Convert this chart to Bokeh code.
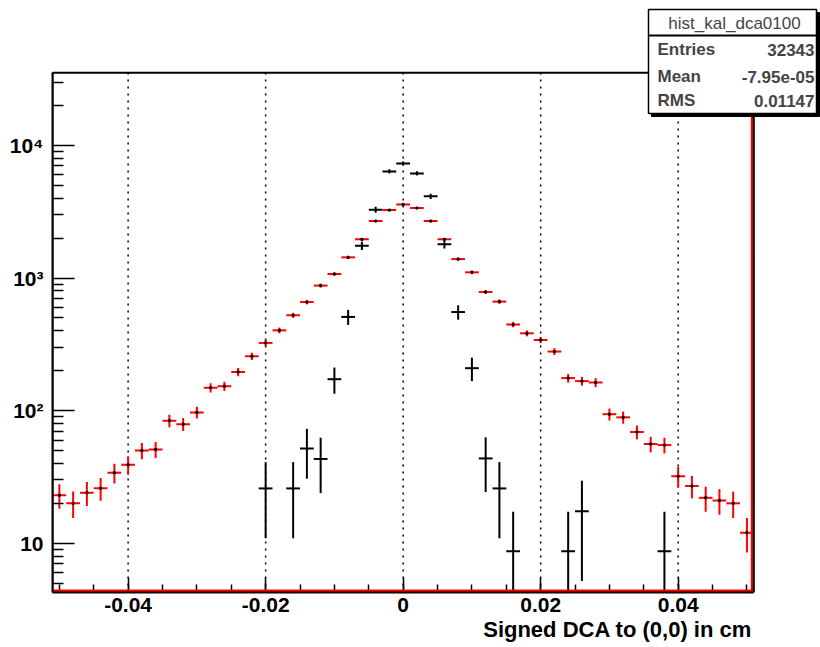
import math
from bokeh.plotting import figure
from bokeh.models import (ColumnDataSource, Range1d, FixedTicker, Label, BoxAnnotation, LinearAxis)
from bokeh.embed import file_html
from bokeh.resources import INLINE

# ---------------- data ----------------
red_x = [-0.050, -0.048, -0.046, -0.044, -0.042, -0.040, -0.038, -0.036, -0.034, -0.032,
         -0.030, -0.028, -0.026, -0.024, -0.022, -0.020, -0.018, -0.016, -0.014, -0.012,
         -0.010, -0.008, -0.006, -0.004, -0.002, 0.000, 0.002, 0.004, 0.006, 0.008,
         0.010, 0.012, 0.014, 0.016, 0.018, 0.020, 0.022, 0.024, 0.026, 0.028,
         0.030, 0.032, 0.034, 0.036, 0.038, 0.040, 0.042, 0.044, 0.046, 0.048, 0.050]
red_counts = [23, 20, 24, 26, 34, 39, 50, 51, 84, 79,
              97, 149, 153, 196, 257, 324, 403, 524, 659, 877,
              1072, 1432, 1958, 2691, 3253, 3592, 3372, 2691, 1958, 1390,
              1104, 785, 664, 446, 383, 341, 279, 176, 167, 163,
              94, 89, 69, 56, 55, 32, 27, 22, 21, 20, 12]
red_errors = [4.8, 4.5, 4.9, 5.1, 5.8, 6.2, 7.1, 7.1, 9.2, 8.9,
              9.8, 12.2, 12.4, 14.0, 16.0, 18.0, 20.1, 22.9, 25.7, 29.6,
              32.7, 37.8, 44.2, 51.9, 57.0, 59.9, 58.1, 51.9, 44.2, 37.3,
              33.2, 28.0, 25.8, 21.1, 19.6, 18.5, 16.7, 13.3, 12.9, 12.8,
              9.7, 9.4, 8.3, 7.5, 7.4, 5.7, 5.2, 4.7, 4.6, 4.5, 3.5]

black_x = [-0.020, -0.016, -0.014, -0.012, -0.010, -0.008, -0.006, -0.004, -0.002, 0.000,
           0.002, 0.004, 0.006, 0.008, 0.010, 0.012, 0.014, 0.016, 0.024, 0.026, 0.038]
black_vals = [25.9, 25.9, 51.8, 43.2, 172.6, 509, 1752, 3273, 6368, 7313,
              6152, 4130, 1795, 554, 209, 43.6, 25.9, 8.7, 8.7, 17.4, 8.7]
black_errs = [15.0, 15.0, 21.1, 19.3, 38.6, 66.3, 123, 168, 234, 251,
              230, 189, 124, 69, 42, 19.3, 15.0, 8.6, 8.6, 12.2, 8.6]

half_bin = 0.001

x_ticks = [-0.04, -0.02, 0.0, 0.02, 0.04]
x_tick_labels = ["-0.04", "-0.02", "0", "0.02", "0.04"]
x_minor = [-0.05, -0.045, -0.04, -0.035, -0.03, -0.025, -0.02, -0.015, -0.01, -0.005, 0.0,
           0.005, 0.01, 0.015, 0.02, 0.025, 0.03, 0.035, 0.04, 0.045, 0.05]
y_ticks = [10, 100, 1000, 10000]
y_tick_labels = ["10", "10\u00b2", "10\u00b3", "10\u2074"]
y_minor = [5, 6, 7, 8, 9, 20, 30, 40, 50, 60, 70, 80, 90,
           200, 300, 400, 500, 600, 700, 800, 900,
           2000, 3000, 4000, 5000, 6000, 7000, 8000, 9000, 20000, 30000]

stats_title = "hist_kal_dca0100"
stats_names = ["Entries", "Mean", "RMS"]
stats_values = ["32343", "-7.95e-05", "0.01147"]
x_title = "Signed DCA to (0,0) in cm"

x_lo, x_hi = -0.051, 0.051
y_lo, y_hi = 4.25, 35300

# ---------------- layout (pixels) ----------------
W, H = 820, 647
DATA_L, DATA_R, DATA_T, DATA_B = 52, 753.3, 72.3, 592
px_per_x = (DATA_R - DATA_L) / (x_hi - x_lo)
px_per_dec = (DATA_B - DATA_T) / (math.log10(y_hi) - math.log10(y_lo))
# the frame is extended to the canvas top/right so the stats box can overlap it
x_ext = x_hi + (W - DATA_R) / px_per_x
y_ext = 10 ** (math.log10(y_hi) + DATA_T / px_per_dec)

p = figure(width=W, height=H, x_range=Range1d(x_lo, x_ext), y_range=Range1d(y_lo, y_ext),
           y_axis_type="log", output_backend="svg", toolbar_location=None,
           min_border_left=DATA_L, min_border_right=0, min_border_top=0,
           min_border_bottom=H - DATA_B)
p.background_fill_color = "white"
p.border_fill_color = "white"
p.outline_line_color = None
p.xgrid.visible = False
p.ygrid.visible = False

FONT = "Liberation Sans"

# x axis
p.xaxis.ticker = FixedTicker(ticks=x_ticks, minor_ticks=x_minor)
p.xaxis.major_label_overrides = {t: l for t, l in zip(x_ticks, x_tick_labels)}
p.xaxis.bounds = (x_lo, x_hi)
p.xaxis.major_tick_in = 15
p.xaxis.major_tick_out = 0
p.xaxis.minor_tick_in = 8
p.xaxis.minor_tick_out = 0
p.xaxis.major_label_standoff = 5
# y axis
p.yaxis.ticker = FixedTicker(ticks=y_ticks, minor_ticks=y_minor)
p.yaxis.major_label_overrides = {t: l for t, l in zip(y_ticks, y_tick_labels)}
p.yaxis.bounds = (y_lo, y_hi)
p.yaxis.major_tick_in = 22
p.yaxis.major_tick_out = 0
p.yaxis.minor_tick_in = 11
p.yaxis.minor_tick_out = 0
p.yaxis.major_label_standoff = 9
for ax in (p.xaxis, p.yaxis):
    ax.axis_line_width = 2
    ax.major_tick_line_width = 1.5
    ax.minor_tick_line_width = 1.5
    ax.major_label_text_font = FONT
    ax.major_label_text_font_style = "bold"
    ax.major_label_text_font_size = "21px"
    ax.major_label_text_color = "black"

# x-axis title: drawn as the single tick label of an extra line-less axis,
# placed so that the text ends at the right end of the data frame
title_pos = 0.0312
title_axis = LinearAxis(ticker=FixedTicker(ticks=[title_pos], minor_ticks=[]),
                        major_label_overrides={title_pos: x_title},
                        axis_line_color=None, major_tick_line_color=None, minor_tick_line_color=None,
                        major_tick_in=0, major_tick_out=0, minor_tick_in=0, minor_tick_out=0,
                        major_label_standoff=2,
                        major_label_text_font=FONT, major_label_text_font_style="bold",
                        major_label_text_font_size="22px", major_label_text_color="black")
p.add_layout(title_axis, "below")

# dotted vertical grid at major x ticks (limited to the data frame)
p.segment(x0=x_ticks, x1=x_ticks, y0=[y_lo] * len(x_ticks), y1=[y_hi] * len(x_ticks),
          line_color="black", line_width=1.5, line_dash="2 5")

# black histogram
bsrc = ColumnDataSource(dict(
    x=black_x, y=black_vals,
    xl=[x - half_bin for x in black_x], xr=[x + half_bin for x in black_x],
    yl=[v - e for v, e in zip(black_vals, black_errs)],
    yh=[v + e for v, e in zip(black_vals, black_errs)]))
p.segment(x0="xl", x1="xr", y0="y", y1="y", source=bsrc, line_color="black", line_width=2)
p.segment(x0="x", x1="x", y0="yl", y1="yh", source=bsrc, line_color="black", line_width=2)

# red histogram
rsrc = ColumnDataSource(dict(
    x=red_x, y=red_counts,
    xl=[x - half_bin for x in red_x], xr=[x + half_bin for x in red_x],
    yl=[v - e for v, e in zip(red_counts, red_errors)],
    yh=[v + e for v, e in zip(red_counts, red_errors)]))
p.segment(x0="xl", x1="xr", y0="y", y1="y", source=rsrc, line_color="red", line_width=2)
p.segment(x0="x", x1="x", y0="yl", y1="yh", source=rsrc, line_color="red", line_width=2)
p.scatter(x="x", y="y", source=rsrc, marker="square", size=2, color="black")

# red histogram outline along the bottom and right edges of the data frame
p.add_layout(BoxAnnotation(left=x_lo, right=x_hi, bottom=y_lo,
                           top=10 ** (math.log10(y_lo) + 3 / px_per_dec),
                           fill_color="red", fill_alpha=1, line_color=None))
p.add_layout(BoxAnnotation(left=x_hi - 3 / px_per_x, right=x_hi, bottom=y_lo, top=y_hi,
                           fill_color="red", fill_alpha=1, line_color=None))
# data frame border
p.add_layout(BoxAnnotation(left=x_lo, right=x_hi, bottom=y_lo, top=y_hi,
                           fill_alpha=0, line_color="black", line_width=2, line_alpha=1))

# stats box (screen coords: x from frame left, y up from frame bottom)
def sx(cx):
    return cx - DATA_L

def sy(cy):
    return DATA_B - cy

def sbox(l, t, r, b, **kw):
    return BoxAnnotation(left=sx(l), right=sx(r), top=sy(t), bottom=sy(b),
                         left_units="screen", right_units="screen",
                         top_units="screen", bottom_units="screen", **kw)

p.add_layout(sbox(651, 12, 819, 116, fill_color="black", fill_alpha=1, line_color="black", line_alpha=1))
p.add_layout(sbox(648, 9, 816, 113, fill_color="white", fill_alpha=1, line_color="black",
                  line_width=1.5, line_alpha=1))
p.add_layout(sbox(648, 34.5, 816, 35.5, fill_color="black", fill_alpha=1, line_color="black",
                  line_width=1, line_alpha=1))
p.add_layout(Label(x=sx(734), y=sy(22.5), x_units="screen", y_units="screen", text=stats_title,
                   text_align="center", text_baseline="middle", text_font=FONT,
                   text_font_size="17px"))
for n, v, cy in zip(stats_names, stats_values, [49.3, 76, 100]):
    p.add_layout(Label(x=sx(657), y=sy(cy), x_units="screen", y_units="screen", text=n,
                       text_align="left", text_baseline="middle", text_font=FONT,
                       text_font_style="bold", text_font_size="17px"))
    p.add_layout(Label(x=sx(814), y=sy(cy), x_units="screen", y_units="screen", text=v,
                       text_align="right", text_baseline="middle", text_font=FONT,
                       text_font_style="bold", text_font_size="17px"))

open("out.html", "w").write(file_html(p, INLINE))
